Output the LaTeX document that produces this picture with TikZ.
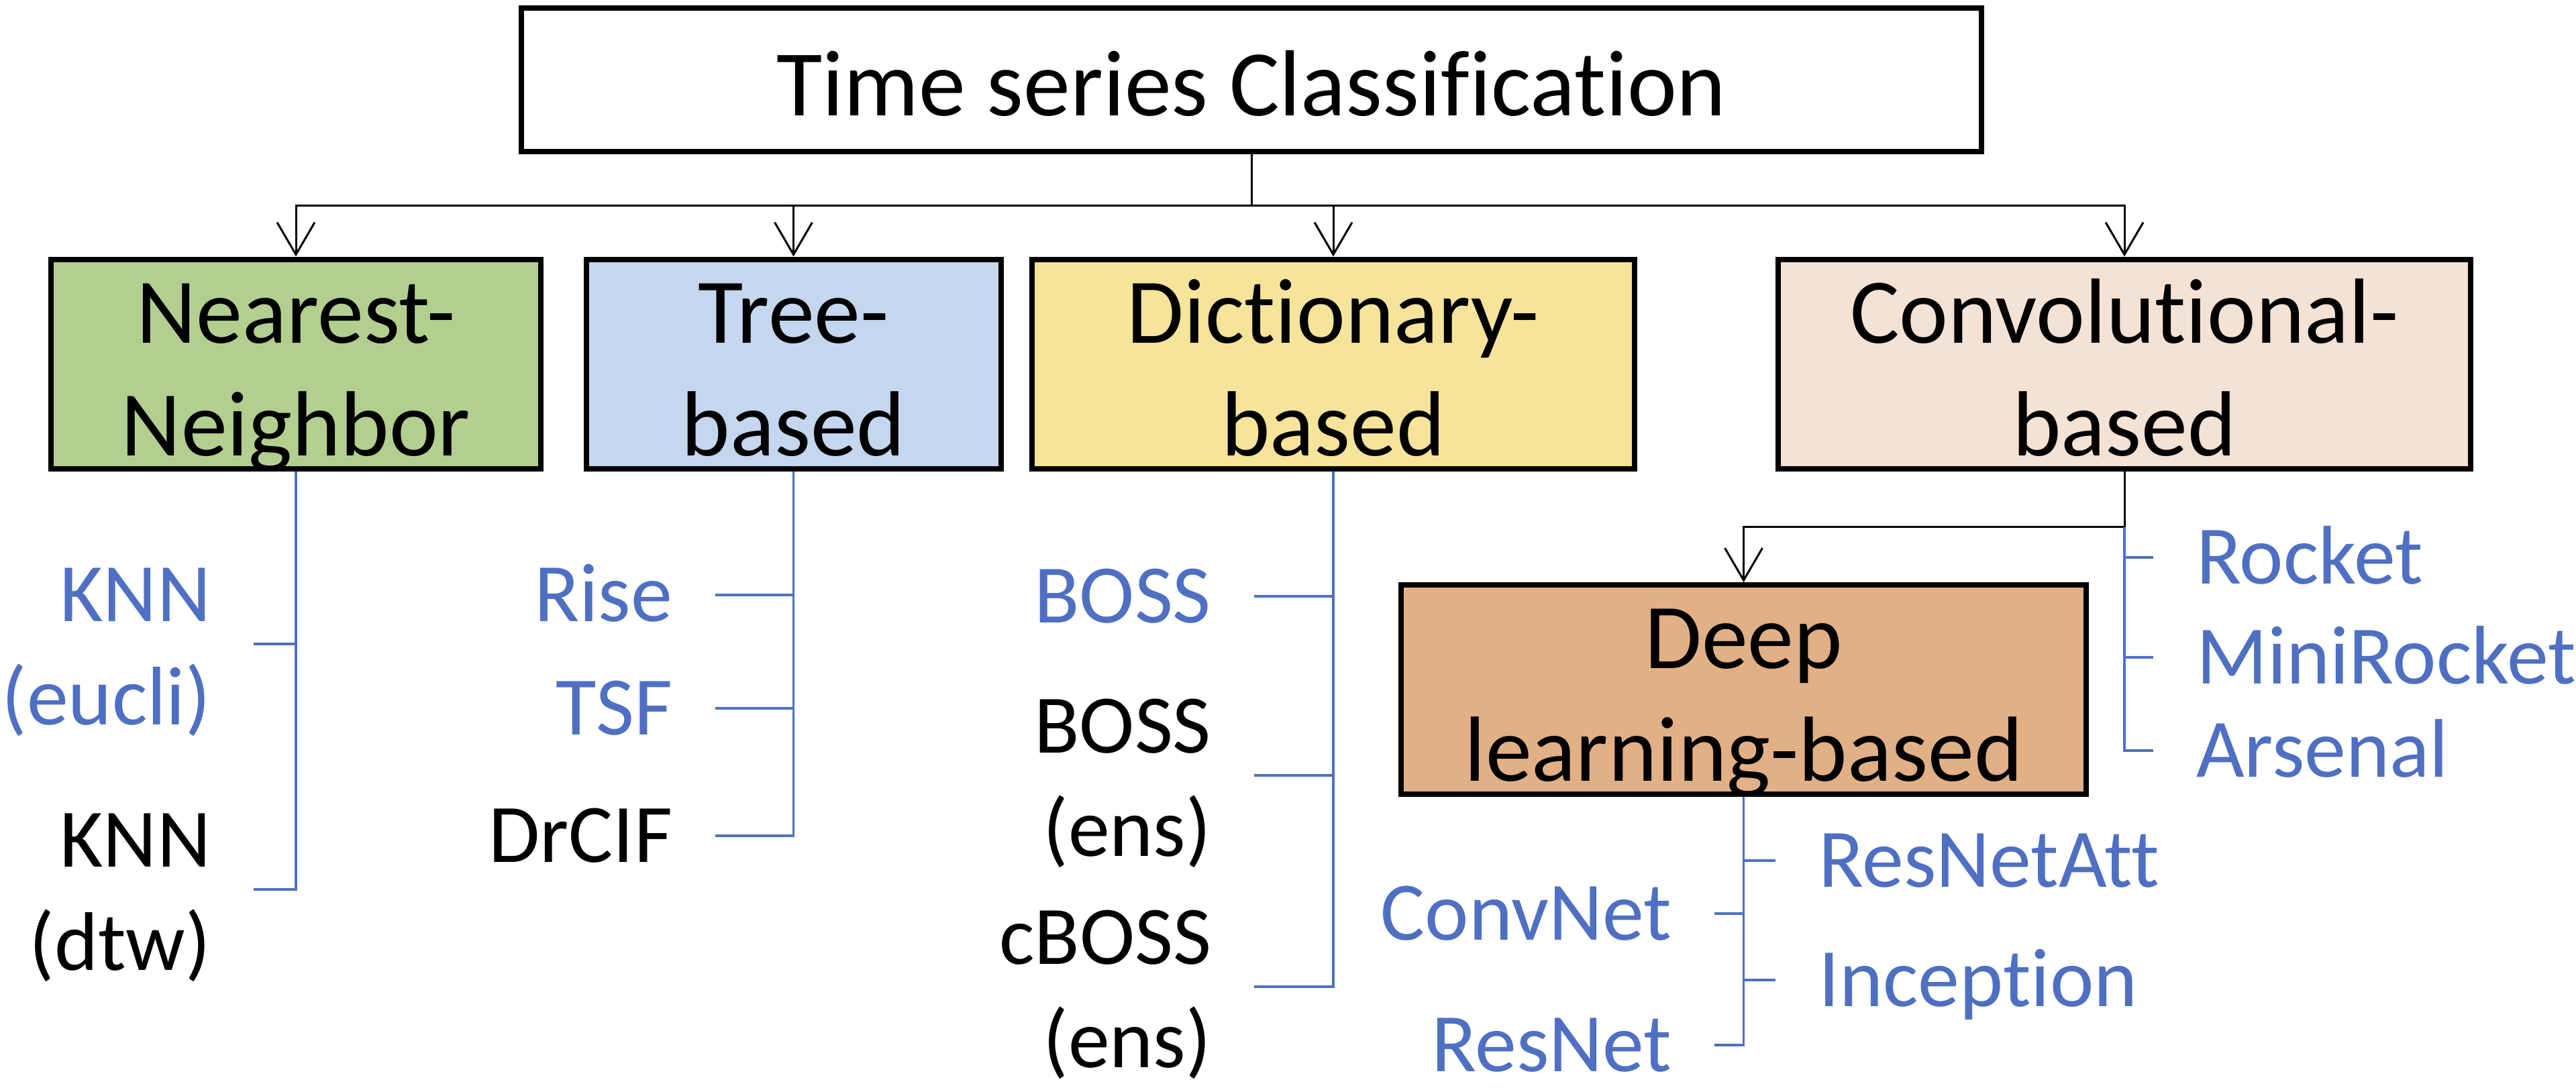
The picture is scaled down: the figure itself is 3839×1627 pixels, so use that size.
\documentclass[tikz,border=0pt]{standalone}
\usepackage{fontspec}
\setmainfont{Carlito}[Ligatures=NoCommon]
\usetikzlibrary{arrows.meta}
\definecolor{tblue}{HTML}{4F70C2}
\definecolor{cgreen}{HTML}{B3CF8F}
\definecolor{cblue}{HTML}{C5D7EE}
\definecolor{cyellow}{HTML}{F5E49A}
\definecolor{cpeach}{HTML}{F4E2D5}
\definecolor{corange}{HTML}{E2B086}
\newcommand\ftitle{\fontsize{35pt}{42pt}\selectfont}
\newcommand\fbx{\fontsize{34.5pt}{42pt}\selectfont}
\newcommand\flf{\fontsize{31pt}{38.5pt}\selectfont}
\begin{document}
\begin{tikzpicture}[x=0.25pt,y=-0.25pt,
  box/.style={draw=black, line width=2pt, inner sep=0pt, align=center, font=\fbx,
    minimum height=78pt, text height=68.3pt, text depth=0pt},
  leaf/.style={inner sep=0pt, outer xsep=16pt, outer ysep=0pt, align=right, font=\flf,
    text=tblue, text height=19.6pt, text depth=0pt},
  leafl/.style={leaf, align=left},
  two/.style={text height=60pt, text depth=0pt},
  blk/.style={text=black},
  cline/.style={draw=black, line width=0.75pt},
  bline/.style={draw=tblue, line width=0.9pt},
  tip/.style={-{Straight Barb[length=12pt,width=14pt]}}
]
\useasboundingbox (0,0) rectangle (3839,1627);

% main boxes
\node[box, font=\ftitle, minimum width=544pt, minimum height=53.5pt,
      text height=26.6pt, text depth=0pt] (top) at (1865,119) {Time series Classification};
\node[box, fill=cgreen,  minimum width=182.5pt] (nn)   at (441,542.5)  {Nearest-\\Neighbor};
\node[box, fill=cblue,   minimum width=154.5pt] (tree) at (1182.5,542.5) {Tree-\\based};
\node[box, fill=cyellow, minimum width=224.6pt] (dict) at (1987,542.5) {Dictionary-\\based};
\node[box, fill=cpeach,  minimum width=257.9pt] (conv) at (3166,542.5) {Convolutional-\\based};
\node[box, fill=corange, minimum width=255.25pt] (deep) at (2598.5,1028) {Deep\\learning-based};

% top-level connectors
\coordinate (bus) at (1865,306);
\draw[cline] (top.south) -- (bus);
\draw[cline,tip] (bus) -| (nn.north);
\draw[cline,tip] (bus) -| (tree.north);
\draw[cline,tip] (bus) -| (dict.north);
\draw[cline,tip] (bus) -| (conv.north);

\coordinate (cbus) at (3166,785.5);
\draw[cline] (conv.south) -- (cbus);
\draw[cline,tip] (cbus) -| (deep.north);

% leaves
\node[leaf, two, anchor=base east] (knne) at (378,1080) {KNN\\(eucli)};
\node[leaf, two, blk, anchor=base east] (knnd) at (378,1446) {KNN\\(dtw)};

\node[leaf, anchor=base east] (rise) at (1066,926) {Rise};
\node[leaf, anchor=base east] (tsf) at (1066,1095) {TSF};
\node[leaf, blk, anchor=base east] (drcif) at (1066,1285) {DrCIF};

\node[leaf, anchor=base east] (boss) at (1869,928) {BOSS};
\node[leaf, two, blk, anchor=base east] (bosse) at (1869,1276) {BOSS\\(ens)};
\node[leaf, two, blk, anchor=base east] (cboss) at (1869,1591) {cBOSS\\(ens)};

\node[leafl, anchor=base west] (rocket) at (3209,870) {Rocket};
\node[leafl, anchor=base west] (mini) at (3209,1019) {MiniRocket};
\node[leafl, anchor=base west] (arsenal) at (3209,1158) {Arsenal};

\node[leafl, anchor=base west] (rna) at (2646,1322) {ResNetAtt};
\node[leafl, anchor=base west] (incep) at (2646,1500) {Inception};
\node[leaf, anchor=base east] (convnet) at (2555,1401) {ConvNet};
\node[leaf, anchor=base east] (resnet) at (2555,1597) {ResNet};

% leaf connectors
\draw[bline] (nn.south) |- (knne.east);
\draw[bline] (nn.south) |- (knnd.east);
\draw[bline] (tree.south) |- (rise.east);
\draw[bline] (tree.south) |- (tsf.east);
\draw[bline] (tree.south) |- (drcif.east);
\draw[bline] (dict.south) |- (boss.east);
\draw[bline] (dict.south) |- (bosse.east);
\draw[bline] (dict.south) |- (cboss.east);
\draw[bline] (cbus) |- (rocket.west);
\draw[bline] (cbus) |- (mini.west);
\draw[bline] (cbus) |- (arsenal.west);
\draw[bline] (deep.south) |- (rna.west);
\draw[bline] (deep.south) |- (incep.west);
\draw[bline] (deep.south) |- (convnet.east);
\draw[bline] (deep.south) |- (resnet.east);
\end{tikzpicture}
\end{document}
